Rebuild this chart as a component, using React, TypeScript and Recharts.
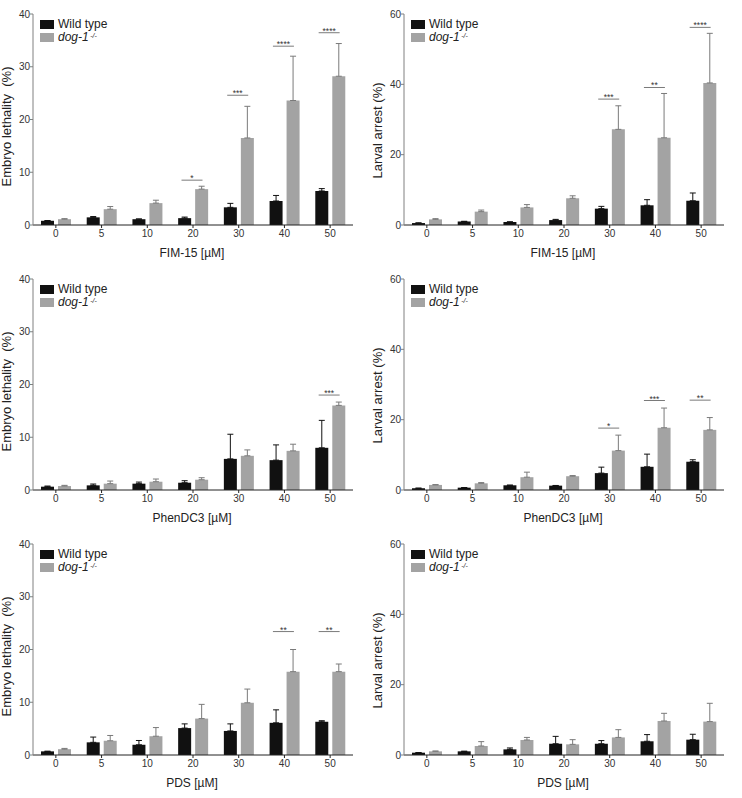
import { BarChart, Bar, XAxis, YAxis, ErrorBar, Legend, ReferenceDot } from 'recharts';

const doses = ['0', '5', '10', '20', '30', '40', '50'];

// FIM-15, embryo lethality (%)
const fimEmbryoWt = [0.8, 1.45, 1.1, 1.3, 3.35, 4.55, 6.45];
const fimEmbryoWtSd = [0.05, 0.15, 0.05, 0.2, 0.75, 1.05, 0.45];
const fimEmbryoDog = [1.1, 3.0, 4.15, 6.8, 16.5, 23.6, 28.2];
const fimEmbryoDogSd = [0.1, 0.5, 0.55, 0.55, 6.0, 8.4, 6.2];
const fimEmbryoSig = [
  { dose: '20', level: 8.5, mark: '*' },
  { dose: '30', level: 24.6, mark: '***' },
  { dose: '40', level: 33.9, mark: '****' },
  { dose: '50', level: 36.45, mark: '****' },
];

// FIM-15, larval arrest (%)
const fimLarvalWt = [0.55, 1.0, 0.85, 1.4, 4.65, 5.6, 6.9];
const fimLarvalWtSd = [0.05, 0.05, 0.05, 0.2, 0.65, 1.6, 2.2];
const fimLarvalDog = [1.6, 3.8, 5.0, 7.6, 27.2, 24.8, 40.4];
const fimLarvalDogSd = [0.2, 0.45, 0.8, 0.7, 6.7, 12.6, 14.1];
const fimLarvalSig = [
  { dose: '30', level: 35.8, mark: '***' },
  { dose: '40', level: 39.1, mark: '**' },
  { dose: '50', level: 56.2, mark: '****' },
];

// PhenDC3, embryo lethality (%)
const phenEmbryoWt = [0.63, 0.88, 1.2, 1.38, 5.9, 5.66, 8.0];
const phenEmbryoWtSd = [0.12, 0.25, 0.3, 0.38, 4.67, 2.89, 5.2];
const phenEmbryoDog = [0.75, 1.2, 1.57, 1.95, 6.48, 7.42, 16.04];
const phenEmbryoDogSd = [0.13, 0.5, 0.51, 0.38, 1.12, 1.26, 0.63];
const phenEmbryoSig = [{ dose: '50', level: 18.0, mark: '***' }];

// PhenDC3, larval arrest (%)
const phenLarvalWt = [0.5, 0.67, 1.34, 1.24, 4.8, 6.6, 8.04];
const phenLarvalWtSd = [0.02, 0.02, 0.05, 0.05, 1.7, 3.6, 0.56];
const phenLarvalDog = [1.44, 1.9, 3.64, 3.92, 11.2, 17.7, 17.1];
const phenLarvalDogSd = [0.1, 0.2, 1.43, 0.18, 4.4, 5.6, 3.5];
const phenLarvalSig = [
  { dose: '30', level: 17.6, mark: '*' },
  { dose: '40', level: 25.45, mark: '***' },
  { dose: '50', level: 25.55, mark: '**' },
];

// PDS, embryo lethality (%)
const pdsEmbryoWt = [0.69, 2.4, 1.94, 5.1, 4.56, 6.1, 6.3];
const pdsEmbryoWtSd = [0.02, 1.0, 0.81, 0.8, 1.34, 2.46, 0.2];
const pdsEmbryoDog = [1.1, 2.7, 3.56, 6.9, 9.9, 15.8, 15.8];
const pdsEmbryoDogSd = [0.15, 1.0, 1.64, 2.7, 2.6, 4.2, 1.45];
const pdsEmbryoSig = [
  { dose: '40', level: 23.4, mark: '**' },
  { dose: '50', level: 23.4, mark: '**' },
];

// PDS, larval arrest (%)
const pdsLarvalWt = [0.66, 1.04, 1.6, 3.2, 3.2, 3.9, 4.36];
const pdsLarvalWtSd = [0.02, 0.02, 0.4, 2.1, 0.9, 1.9, 1.54];
const pdsLarvalDog = [1.04, 2.56, 4.27, 3.03, 5.0, 9.67, 9.5];
const pdsLarvalDogSd = [0.1, 1.24, 0.73, 1.33, 2.2, 2.18, 5.2];
const pdsLarvalSig: { dose: string; level: number; mark: string }[] = [];

const embryoTicks = [0, 10, 20, 30, 40];
const larvalTicks = [0, 20, 40, 60];

const FONT = "'Liberation Sans', Arial, sans-serif";
const NARROW = "'Liberation Sans Narrow', 'Liberation Sans', Arial, sans-serif";
const BLACK = '#111111';
const GREY = '#a3a3a3';

const panels = [
  { wt: fimEmbryoWt, wtSd: fimEmbryoWtSd, dog: fimEmbryoDog, dogSd: fimEmbryoDogSd, sig: fimEmbryoSig, ticks: embryoTicks, yLabel: 'Embryo lethality\u00a0 (%)', xLabel: 'FIM-15 [µM]', shift: 7 },
  { wt: fimLarvalWt, wtSd: fimLarvalWtSd, dog: fimLarvalDog, dogSd: fimLarvalDogSd, sig: fimLarvalSig, ticks: larvalTicks, yLabel: 'Larval arrest (%)', xLabel: 'FIM-15 [µM]', shift: 11 },
  { wt: phenEmbryoWt, wtSd: phenEmbryoWtSd, dog: phenEmbryoDog, dogSd: phenEmbryoDogSd, sig: phenEmbryoSig, ticks: embryoTicks, yLabel: 'Embryo lethality\u00a0 (%)', xLabel: 'PhenDC3 [µM]', shift: 7 },
  { wt: phenLarvalWt, wtSd: phenLarvalWtSd, dog: phenLarvalDog, dogSd: phenLarvalDogSd, sig: phenLarvalSig, ticks: larvalTicks, yLabel: 'Larval arrest (%)', xLabel: 'PhenDC3 [µM]', shift: 11 },
  { wt: pdsEmbryoWt, wtSd: pdsEmbryoWtSd, dog: pdsEmbryoDog, dogSd: pdsEmbryoDogSd, sig: pdsEmbryoSig, ticks: embryoTicks, yLabel: 'Embryo lethality\u00a0 (%)', xLabel: 'PDS [µM]', shift: 7 },
  { wt: pdsLarvalWt, wtSd: pdsLarvalWtSd, dog: pdsLarvalDog, dogSd: pdsLarvalDogSd, sig: pdsLarvalSig, ticks: larvalTicks, yLabel: 'Larval arrest (%)', xLabel: 'PDS [µM]', shift: 11 },
];

const rowTops = [14, 13, 12];

const SigMark = ({ cx, cy, mark }: any) => {
  if (cx == null || cy == null) return null;
  const c = cx - 1;
  return (
    <g>
      <line x1={c - 10.5} x2={c + 10.5} y1={cy} y2={cy} stroke="#7a7a7a" strokeWidth={1} />
      <text x={c} y={cy + 1} textAnchor="middle" fontSize={8.5} fontFamily={FONT} fill="#333">
        {mark}
      </text>
    </g>
  );
};

const Key = () => (
  <div style={{ fontFamily: NARROW, fontSize: 12, color: '#222', lineHeight: '12px' }}>
    <div style={{ display: 'flex', alignItems: 'center', height: 12 }}>
      <span style={{ display: 'inline-block', width: 14, height: 9, background: BLACK, marginRight: 4 }} />
      <span>Wild type</span>
    </div>
    <div style={{ display: 'flex', alignItems: 'flex-start', height: 12, marginTop: 1 }}>
      <span style={{ display: 'inline-block', width: 14, height: 9, background: GREY, marginRight: 4, marginTop: 1.5 }} />
      <i>dog-1</i>
      <i style={{ fontSize: 7, lineHeight: '7px', marginLeft: 1.5, marginTop: 1 }}>-/-</i>
    </div>
  </div>
);

function Panel({ cfg, top }: { cfg: (typeof panels)[number]; top: number }) {
  const data = doses.map((d, i) => ({
    dose: d,
    wt: cfg.wt[i],
    wtErr: [0, cfg.wtSd[i]],
    dog: cfg.dog[i],
    dogErr: [0, cfg.dogSd[i]],
  }));
  const yMax = cfg.ticks[cfg.ticks.length - 1];

  return (
    <BarChart
      width={371}
      height={top + 211 + 41}
      data={data}
      margin={{ top, right: 18, bottom: 0, left: 0 }}
      barSize={13}
      barGap={4}
    >
      <XAxis
        dataKey="dose"
        height={41}
        interval={0}
        tickSize={3}
        tickMargin={2}
        axisLine={{ stroke: '#222' }}
        tickLine={{ stroke: '#222' }}
        tick={{ fontSize: 10, fill: '#333', fontFamily: NARROW }}
        label={(p: any) => {
          const vb = p.viewBox;
          return (
            <text x={vb.x + vb.width / 2 - 1} y={vb.y + 32} textAnchor="middle" fontSize={12} fontFamily={NARROW} fill="#222">
              {cfg.xLabel}
            </text>
          );
        }}
      />
      <YAxis
        width={33}
        domain={[0, yMax]}
        ticks={cfg.ticks}
        tickSize={3}
        tickMargin={0}
        axisLine={{ stroke: '#808080' }}
        tickLine={{ stroke: '#808080' }}
        tick={{ fontSize: 10, fill: '#333', fontFamily: NARROW }}
        label={(p: any) => {
          const vb = p.viewBox;
          const cx = vb.x + 11;
          const cy = vb.y + vb.height / 2 + cfg.shift;
          return (
            <text x={cx} y={cy} transform={`rotate(-90 ${cx} ${cy})`} textAnchor="middle" fontSize={13} fontFamily={FONT} fill="#222">
              {cfg.yLabel}
            </text>
          );
        }}
      />
      <Bar dataKey="wt" fill={BLACK} isAnimationActive={false}>
        <ErrorBar dataKey="wtErr" direction="y" width={3} stroke={BLACK} strokeWidth={1} />
      </Bar>
      <Bar dataKey="dog" fill={GREY} isAnimationActive={false}>
        <ErrorBar dataKey="dogErr" direction="y" width={3} stroke="#7a7a7a" strokeWidth={1} />
      </Bar>
      {cfg.sig.map((s) => (
        <ReferenceDot
          key={s.dose}
          x={s.dose}
          y={s.level}
          r={0}
          shape={(p: any) => <SigMark cx={p.cx} cy={p.cy} mark={s.mark} />}
        />
      ))}
      <Legend
        layout="vertical"
        align="center"
        verticalAlign="middle"
        wrapperStyle={{ left: 40, top: top + 4, width: 120, height: 25 }}
        content={<Key />}
      />
    </BarChart>
  );
}

export default function App() {
  return (
    <div style={{ position: 'absolute', left: 0, top: 0, width: 742, height: 798, background: '#fff' }}>
      {panels.map((cfg, i) => (
        <div key={i} style={{ position: 'absolute', left: (i % 2) * 371, top: Math.floor(i / 2) * 266 }}>
          <Panel cfg={cfg} top={rowTops[Math.floor(i / 2)]} />
        </div>
      ))}
    </div>
  );
}
